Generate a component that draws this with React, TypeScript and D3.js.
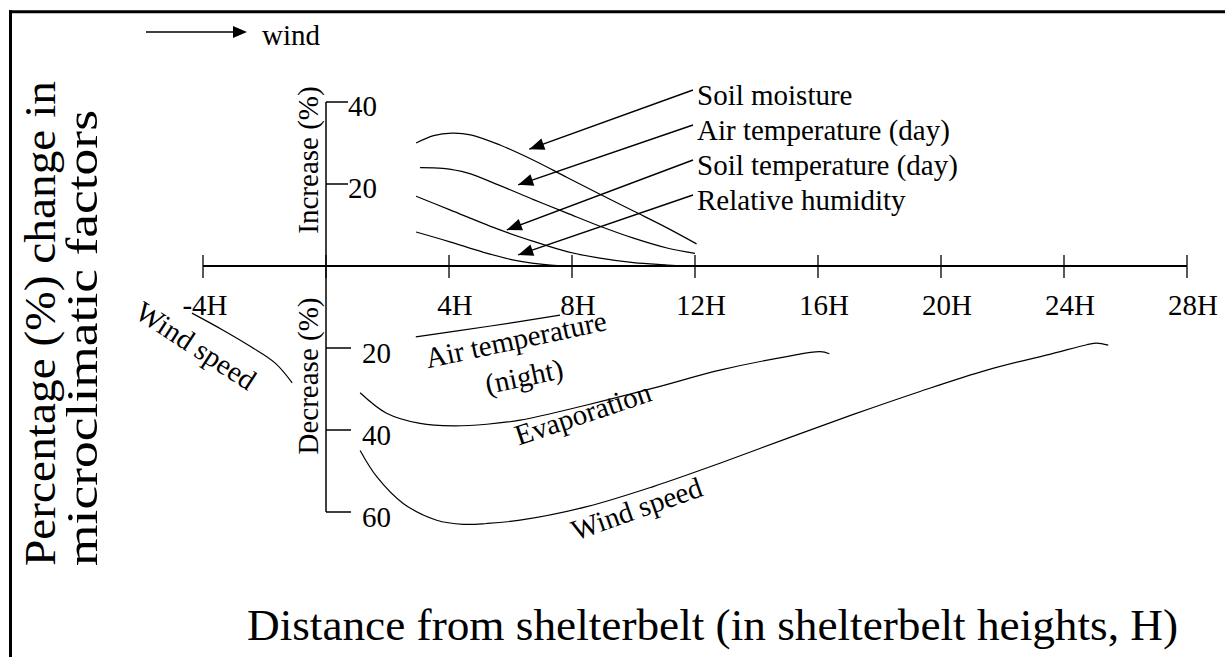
import React from "react";
import * as d3 from "d3";

// ---- data (H = shelterbelt heights, value = % change; negative = decrease) ----
const xTickValues = [-4, 0, 4, 8, 12, 16, 20, 24, 28];
const xTickLabels = ["-4H", "", "4H", "8H", "12H", "16H", "20H", "24H", "28H"];
const increaseTicks = [40, 20];
const increaseTickLabels = ["40", "20"];
const decreaseTicks = [-20, -40, -60];
const decreaseTickLabels = ["20", "40", "60"];

const soilMoisture: [number, number][] = [
  [2.93, 30.0], [3.5, 31.8], [4.1, 32.4], [4.7, 32.0], [5.66, 29.5], [6.75, 25.8],
  [7.84, 21.6], [8.91, 17.5], [10.0, 13.4], [11.09, 9.3], [12.05, 5.4],
];
const airTempDay: [number, number][] = [
  [3.06, 24.0], [3.8, 23.8], [4.59, 22.7], [5.66, 19.6], [6.75, 16.2], [7.84, 12.9],
  [8.91, 9.7], [10.0, 6.8], [11.09, 4.4], [12.0, 3.1],
];
const soilTempDay: [number, number][] = [
  [2.93, 17.0], [4.03, 13.7], [5.66, 8.8], [6.75, 6.0], [7.84, 3.5], [8.91, 1.9],
  [10.0, 0.8], [11.09, 0.25], [11.6, 0],
];
const relHumidity: [number, number][] = [
  [2.93, 8.3], [4.03, 5.9], [5.1, 3.4], [6.2, 1.3], [7.3, 0.2], [7.8, 0],
];
const airTempNight: [number, number][] = [
  [2.92, -17.3], [5.3, -14.7], [7.61, -12.0],
];
const evaporation: [number, number][] = [
  [1.11, -30.9], [1.97, -35.9], [3.06, -38.4], [4.14, -39.0], [5.23, -38.6], [6.31, -37.6],
  [8.48, -33.9], [10.64, -29.8], [12.81, -25.4], [14.98, -22.1], [16.07, -20.9], [16.37, -21.4],
];
const windSpeedLeeward: [number, number][] = [
  [1.11, -45.0], [1.65, -51.4], [2.51, -57.9], [3.6, -62.0], [4.47, -63.0], [5.23, -62.8],
  [6.31, -62.0], [8.48, -58.7], [10.64, -53.8], [12.81, -48.1], [14.98, -42.1], [17.15, -36.2],
  [19.32, -30.6], [21.49, -25.4], [23.65, -21.3], [24.74, -19.2], [25.06, -18.8], [25.44, -19.3],
];
const windSpeedWindward: [number, number][] = [
  [-4.36, -11.5], [-3.36, -15.6], [-2.44, -19.7], [-1.65, -23.7], [-1.1, -28.5],
];

const calloutLabels = ["Soil moisture", "Air temperature (day)", "Soil temperature (day)", "Relative humidity"];
const calloutTips: [number, number][] = [[6.61, 28.5], [6.25, 19.8], [5.88, 8.8], [6.25, 2.7]];

const FONT = "'Liberation Serif', 'Times New Roman', Times, serif";

export default function App() {
  const W = 1225, H = 657;
  const x = d3.scaleLinear().domain([-4, 28]).range([203, 1187]);
  const y = d3.scaleLinear().domain([-60, 40]).range([512, 102]);
  const line = d3
    .line<[number, number]>()
    .x((d) => x(d[0]))
    .y((d) => y(d[1]))
    .curve(d3.curveCatmullRom.alpha(0.5));

  const curves = [soilMoisture, airTempDay, soilTempDay, relHumidity, airTempNight, evaporation, windSpeedLeeward, windSpeedWindward];

  const arrowHead = (x0: number, y0: number, x1: number, y1: number, len = 15, hw = 5.5) => {
    const a = Math.atan2(y1 - y0, x1 - x0);
    const bx = x1 - len * Math.cos(a), by = y1 - len * Math.sin(a);
    const px = -Math.sin(a) * hw, py = Math.cos(a) * hw;
    return `M${x1},${y1}L${bx + px},${by + py}L${bx - px},${by - py}Z`;
  };

  const x0 = x(0);
  const axisY = y(0);

  return (
    <svg width={W} height={H} style={{ position: "absolute", left: 0, top: 0, background: "#fff" }} fontFamily={FONT}>
      <rect width={W} height={H} fill="#fff" />
      {/* frame */}
      <line x1={9} x2={W} y1={11.7} y2={11.7} stroke="#000" strokeWidth={3} />
      <line x1={10.5} x2={10.5} y1={10.2} y2={H} stroke="#000" strokeWidth={3} />

      {/* wind arrow */}
      <line x1={146} x2={236} y1={32} y2={32} stroke="#000" strokeWidth={1.3} />
      <path d={arrowHead(146, 32, 247, 32, 14, 6)} fill="#000" />
      <text x={262} y={45} fontSize={29}>wind</text>

      {/* x axis */}
      <line x1={x(-4)} x2={x(28)} y1={axisY} y2={axisY} stroke="#000" strokeWidth={1.8} />
      {xTickValues.map((v, i) => (
        <g key={"xt" + i}>
          <line x1={x(v)} x2={x(v)} y1={axisY - 11} y2={axisY + 12} stroke="#000" strokeWidth={1.3} />
          {xTickLabels[i] && (
            <text x={x(v) + (v < 0 ? 2 : 6)} y={315} fontSize={29} textAnchor="middle">{xTickLabels[i]}</text>
          )}
        </g>
      ))}

      {/* y axis */}
      <line x1={x0} x2={x0} y1={y(40)} y2={y(-60)} stroke="#000" strokeWidth={1.5} />
      {increaseTicks.map((v, i) => (
        <g key={"it" + i}>
          <line x1={x0} x2={x0 + 22} y1={y(v)} y2={y(v)} stroke="#000" strokeWidth={1.5} />
          <text x={x0 + 22} y={y(v) + 13.5} fontSize={29}>{increaseTickLabels[i]}</text>
        </g>
      ))}
      {decreaseTicks.map((v, i) => (
        <g key={"dt" + i}>
          <line x1={x0} x2={x0 + 25} y1={y(v)} y2={y(v)} stroke="#000" strokeWidth={1.5} />
          <text x={x0 + 36} y={y(v) + 15} fontSize={29}>{decreaseTickLabels[i]}</text>
        </g>
      ))}
      <text transform="translate(318,160) rotate(-90)" fontSize={29} textAnchor="middle">Increase (%)</text>
      <text transform="translate(318,376) rotate(-90)" fontSize={29} textAnchor="middle">Decrease (%)</text>

      {/* curves */}
      {curves.map((c, i) => (
        <path key={"c" + i} d={line(c) || ""} fill="none" stroke="#000" strokeWidth={1.2} />
      ))}

      {/* callouts */}
      {calloutLabels.map((lab, i) => {
        const sx = 693, sy = 90 + i * 35;
        const tx = x(calloutTips[i][0]), ty = y(calloutTips[i][1]);
        return (
          <g key={"co" + i}>
            <line x1={sx} y1={sy} x2={tx} y2={ty} stroke="#000" strokeWidth={1.4} />
            <path d={arrowHead(sx, sy, tx, ty, 15, 6)} fill="#000" />
            <text x={697} y={105 + i * 35} fontSize={29}>{lab}</text>
          </g>
        );
      })}

      {/* curve labels */}
      <text transform="translate(518,349) rotate(-12)" fontSize={29} textAnchor="middle">Air temperature</text>
      <text transform="translate(526,386) rotate(-12)" fontSize={29} textAnchor="middle">(night)</text>
      <text transform="translate(586,423) rotate(-18.6)" fontSize={29} textAnchor="middle">Evaporation</text>
      <text transform="translate(640,518) rotate(-19.4)" fontSize={29} textAnchor="middle">Wind speed</text>
      <text transform="translate(190.6,354) rotate(33)" fontSize={29} textAnchor="middle">Wind speed</text>

      {/* axis titles */}
      <text transform="translate(55,566) rotate(-90)" fontSize={45} textLength={485} lengthAdjust="spacingAndGlyphs">Percentage (%) change in</text>
      <text transform="translate(97,566) rotate(-90)" fontSize={45} textLength={456} lengthAdjust="spacingAndGlyphs">microclimatic factors</text>
      <text x={247} y={640} fontSize={45} textLength={931} lengthAdjust="spacingAndGlyphs">Distance from shelterbelt (in shelterbelt heights, H)</text>
    </svg>
  );
}
